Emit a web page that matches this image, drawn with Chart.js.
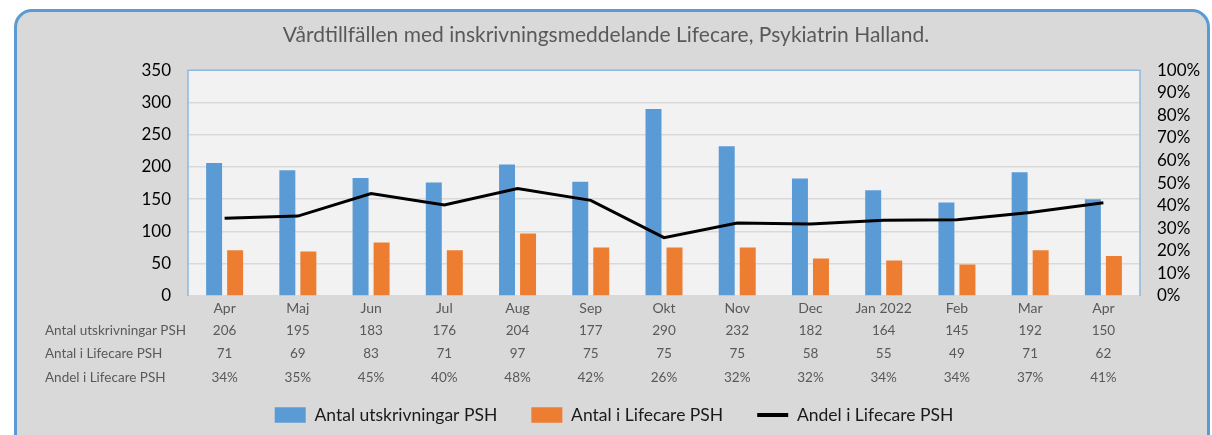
<!DOCTYPE html>
<html lang="sv">
<head>
<meta charset="utf-8">
<title>Vårdtillfällen Lifecare</title>
<script src="https://cdn.jsdelivr.net/npm/chart.js@4.4.0/dist/chart.umd.min.js"></script>
<style>
  html, body { margin: 0; padding: 0; width: 1212px; height: 435px; overflow: hidden; background: #fff; }
  #ram {
    position: absolute; left: 14px; top: 9px; width: 1196px; height: 470px;
    box-sizing: border-box; border: 3px solid #5b9bd5; border-radius: 18px; background: #d9d9d9;
  }
  #graf { position: absolute; left: 0; top: 0; }
</style>
</head>
<body>
<div id="ram"></div>
<canvas id="graf" width="1212" height="435"></canvas>
<script>
const manader = ['Apr', 'Maj', 'Jun', 'Jul', 'Aug', 'Sep', 'Okt', 'Nov', 'Dec', 'Jan 2022', 'Feb', 'Mar', 'Apr'];
const utskrivningar = [206, 195, 183, 176, 204, 177, 290, 232, 182, 164, 145, 192, 150];
const lifecare = [71, 69, 83, 71, 97, 75, 75, 75, 58, 55, 49, 71, 62];
const andel = [34.47, 35.38, 45.36, 40.34, 47.55, 42.37, 25.86, 32.33, 31.87, 33.54, 33.79, 36.98, 41.33];

const vansterTicks = [0, 50, 100, 150, 200, 250, 300, 350];
const hogerTicks = [0, 10, 20, 30, 40, 50, 60, 70, 80, 90, 100];

const radNamn = ['Antal utskrivningar PSH', 'Antal i Lifecare PSH', 'Andel i Lifecare PSH'];

const RITYTA_BOTTEN = 296;   // nederkant på ritytan
const LEGEND_MITT = 403;     // justerad så att legenden hamnar kring y=415
const LEGEND_PAD = 34;

Chart.defaults.font.family = 'Lato, "Open Sans", sans-serif';

// bakgrund och ram runt ritytan
const ritytaPlugin = {
    id: 'rityta',
    beforeDraw(chart) {
        const { ctx, chartArea: a } = chart;
        ctx.save();
        ctx.fillStyle = '#f2f2f2';
        ctx.fillRect(a.left, a.top, a.right - a.left, a.bottom - a.top);
        ctx.restore();
    },
    beforeDatasetsDraw(chart) {
        const { ctx, chartArea: a } = chart;
        ctx.save();
        ctx.strokeStyle = '#8fb8e0';
        ctx.lineWidth = 1.5;
        ctx.beginPath();
        ctx.moveTo(a.left, a.bottom);
        ctx.lineTo(a.left, a.top);
        ctx.lineTo(a.right, a.top);
        ctx.lineTo(a.right, a.bottom);
        ctx.stroke();
        ctx.restore();
    },
    afterLayout(chart) {
        // flytta legenden till rätt plats
        const lg = chart.legend;
        const itemH = lg.height - 2 * LEGEND_PAD;
        const nyTop = LEGEND_MITT - LEGEND_PAD - itemH / 2;
        const h = lg.height;
        lg.top = nyTop;
        lg.bottom = nyTop + h;
        lg.left += 8;
        lg.right += 8;
    }
};

// datatabell under x-axeln
const tabellPlugin = {
    id: 'tabell',
    afterDraw(chart) {
        const ctx = chart.ctx;
        const x = chart.scales.x;
        const rader = [
            utskrivningar.map(v => String(v)),
            lifecare.map(v => String(v)),
            andel.map(v => Math.round(v) + '%')
        ];
        const radY = [331, 354, 378];
        ctx.save();
        ctx.font = '13.5px Lato, "Open Sans", sans-serif';
        ctx.fillStyle = '#595959';
        ctx.textBaseline = 'middle';
        rader.forEach((rad, r) => {
            ctx.textAlign = 'left';
            ctx.fillText(radNamn[r], 45, radY[r]);
            ctx.textAlign = 'center';
            rad.forEach((txt, i) => {
                ctx.fillText(txt, x.getPixelForValue(i), radY[r]);
            });
        });
        ctx.restore();
    }
};

new Chart(document.getElementById('graf').getContext('2d'), {
    type: 'bar',
    data: {
        labels: manader,
        datasets: [
            {
                type: 'line',
                label: 'Andel i Lifecare PSH',
                data: andel,
                yAxisID: 'y1',
                borderColor: '#000000',
                backgroundColor: '#000000',
                borderWidth: 3,
                pointRadius: 0,
                tension: 0,
                order: 0
            },
            {
                label: 'Antal utskrivningar PSH',
                data: utskrivningar,
                backgroundColor: '#5b9bd5',
                yAxisID: 'y',
                categoryPercentage: 0.574,
                barPercentage: 0.76,
                order: 1
            },
            {
                label: 'Antal i Lifecare PSH',
                data: lifecare,
                backgroundColor: '#ed7d31',
                yAxisID: 'y',
                categoryPercentage: 0.574,
                barPercentage: 0.76,
                order: 2
            }
        ]
    },
    options: {
        responsive: false,
        animation: false,
        devicePixelRatio: 1,
        layout: { padding: 0 },
        plugins: {
            title: {
                display: true,
                text: 'Vårdtillfällen med inskrivningsmeddelande Lifecare, Psykiatrin Halland.',
                color: '#595959',
                font: { size: 21, weight: 'normal' },
                padding: { top: 23, bottom: 22 }
            },
            legend: {
                position: 'bottom',
                labels: {
                    color: '#1a1a1a',
                    font: { size: 17.5 },
                    usePointStyle: true,
                    pointStyleWidth: 31,
                    boxHeight: 15.5,
                    padding: LEGEND_PAD,
                    sort: (a, b) => (a.datasetIndex === 0) - (b.datasetIndex === 0),
                    generateLabels(chart) {
                        const items = Chart.defaults.plugins.legend.labels.generateLabels(chart);
                        items.forEach(it => {
                            it.pointStyle = it.datasetIndex === 0 ? 'line' : 'rect';
                            if (it.datasetIndex === 0) it.lineWidth = 4;
                        });
                        return items;
                    }
                }
            },
            tooltip: { enabled: false }
        },
        scales: {
            x: {
                grid: { display: false, drawTicks: false },
                border: { display: false },
                ticks: { color: '#595959', font: { size: 14 }, padding: 4, maxRotation: 0, autoSkip: false },
                afterFit(s) { s.height = s.chart.height - s.chart.legend.height - RITYTA_BOTTEN; }
            },
            y: {
                position: 'left',
                min: 0,
                max: 350,
                afterBuildTicks(s) { s.ticks = vansterTicks.map(v => ({ value: v })); },
                grid: { color: '#d9d9d9', lineWidth: 1.5, drawTicks: false },
                border: { display: false },
                ticks: { color: '#000000', font: { size: 17 }, padding: 17, autoSkip: false },
                afterFit(s) { s.width = 188; }
            },
            y1: {
                position: 'right',
                min: 0,
                max: 100,
                afterBuildTicks(s) { s.ticks = hogerTicks.map(v => ({ value: v })); },
                grid: { display: false, drawTicks: false },
                border: { display: false },
                ticks: { color: '#000000', font: { size: 17 }, padding: 17, autoSkip: false, callback: v => v + '%' },
                afterFit(s) { s.width = 72; }
            }
        }
    },
    plugins: [ritytaPlugin, tabellPlugin]
});
</script>
</body>
</html>
